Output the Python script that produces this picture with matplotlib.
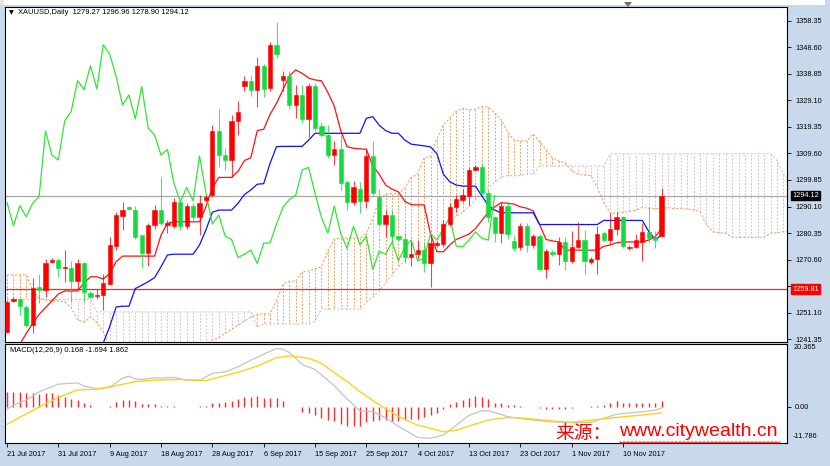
import numpy as np
import matplotlib
matplotlib.use("Agg")
import matplotlib.pyplot as plt
from matplotlib.patches import Rectangle, Polygon
from matplotlib.lines import Line2D
from matplotlib.transforms import blended_transform_factory

# XAUUSD daily bars 21 Jul 2017 .. 17 Nov 2017 (broker feed with Sunday bars)
opens = [1244.0, 1255.5, 1256.3, 1253.2, 1246.6, 1260.4, 1259.6, 1269.9, 1270.4, 1267.5,
         1267.7, 1262.8, 1269.2, 1258.5, 1257.3, 1257.5, 1261.6, 1275.6, 1286.6, 1290.0,
         1288.8, 1279.6, 1272.9, 1283.3, 1288.8, 1283.3, 1283.0, 1291.6, 1283.0, 1290.4,
         1286.3, 1292.5, 1294.3, 1317.9, 1309.0, 1307.2, 1321.6, 1334.2, 1336.3, 1333.0,
         1341.8, 1333.6, 1349.5, 1336.4, 1337.9, 1327.4, 1331.1, 1322.3, 1334.2, 1319.5,
         1316.4, 1309.0, 1311.1, 1299.2, 1291.9, 1296.4, 1292.2, 1308.7, 1293.7, 1283.7,
         1287.0, 1279.2, 1278.0, 1271.4, 1272.6, 1274.1, 1269.2, 1275.9, 1276.3, 1283.7,
         1289.8, 1292.5, 1294.0, 1303.5, 1304.5, 1295.2, 1286.3, 1280.4, 1290.3, 1277.5,
         1275.1, 1282.9, 1275.9, 1279.2, 1267.0, 1273.5, 1272.6, 1277.1, 1270.2, 1275.3,
         1277.8, 1269.6, 1271.0, 1280.4, 1277.8, 1281.7, 1286.1, 1274.7, 1275.3, 1277.1,
         1280.8, 1279.0, 1279.27]
highs = [1255.8, 1256.8, 1256.6, 1254.0, 1263.7, 1265.5, 1271.0, 1271.2, 1271.2, 1274.1,
         1270.0, 1271.0, 1269.8, 1259.0, 1260.0, 1265.3, 1279.0, 1288.2, 1291.9, 1290.3,
         1290.4, 1279.8, 1284.0, 1290.7, 1301.0, 1285.0, 1293.1, 1292.5, 1291.5, 1291.5,
         1294.3, 1294.5, 1320.0, 1326.0, 1311.5, 1323.8, 1328.9, 1337.9, 1338.5, 1344.9,
         1342.6, 1350.5, 1357.9, 1340.0, 1339.7, 1334.8, 1334.8, 1335.5, 1335.5, 1321.2,
         1320.0, 1314.3, 1316.4, 1300.0, 1299.5, 1299.2, 1311.5, 1314.0, 1296.4, 1288.8,
         1288.8, 1279.8, 1280.4, 1277.0, 1277.8, 1277.1, 1279.6, 1277.5, 1285.0, 1291.3,
         1294.3, 1296.7, 1304.7, 1305.5, 1306.2, 1296.4, 1286.5, 1291.9, 1291.9, 1279.8,
         1283.9, 1283.9, 1280.0, 1280.2, 1274.6, 1274.0, 1279.0, 1278.9, 1281.2, 1284.5,
         1281.5, 1271.5, 1282.9, 1281.2, 1287.6, 1288.2, 1286.8, 1275.8, 1280.0, 1283.9,
         1290.0, 1281.0, 1296.96]
lows = [1243.6, 1255.0, 1250.2, 1245.8, 1243.7, 1254.5, 1256.9, 1269.5, 1264.3, 1262.4,
        1255.2, 1260.0, 1255.0, 1256.5, 1256.0, 1252.0, 1261.3, 1274.0, 1281.5, 1288.8,
        1278.0, 1267.5, 1268.2, 1281.8, 1283.5, 1280.5, 1282.1, 1281.5, 1282.0, 1284.8,
        1279.6, 1291.8, 1293.5, 1304.7, 1303.5, 1301.1, 1316.4, 1332.4, 1330.8, 1326.5,
        1330.3, 1332.4, 1344.6, 1332.4, 1326.1, 1322.5, 1320.8, 1315.8, 1318.0, 1315.5,
        1307.8, 1305.4, 1296.2, 1288.8, 1290.7, 1287.6, 1289.5, 1293.7, 1283.3, 1279.0,
        1276.6, 1277.4, 1269.2, 1268.3, 1270.8, 1266.1, 1260.6, 1275.2, 1275.4, 1282.8,
        1288.2, 1291.9, 1290.7, 1303.0, 1294.5, 1284.6, 1277.1, 1276.8, 1278.0, 1273.9,
        1274.0, 1273.5, 1275.0, 1266.3, 1263.7, 1272.0, 1268.6, 1266.8, 1269.2, 1275.0,
        1265.5, 1269.0, 1265.5, 1277.5, 1276.3, 1279.7, 1275.0, 1274.3, 1274.8, 1270.2,
        1276.8, 1274.7, 1278.90]
closes = [1255.1, 1256.2, 1253.6, 1246.6, 1260.2, 1259.6, 1269.4, 1270.6, 1267.4, 1267.9,
          1262.8, 1269.2, 1258.8, 1256.9, 1257.8, 1262.0, 1275.9, 1287.0, 1288.8, 1289.1,
          1279.0, 1273.1, 1283.3, 1288.8, 1284.1, 1284.0, 1291.6, 1283.0, 1290.4, 1286.3,
          1291.3, 1293.7, 1317.9, 1309.0, 1307.2, 1321.6, 1325.0, 1336.3, 1333.0, 1341.8,
          1333.3, 1349.5, 1346.1, 1337.9, 1327.4, 1331.1, 1322.3, 1334.2, 1318.9, 1316.4,
          1309.0, 1311.1, 1298.8, 1291.9, 1297.1, 1292.2, 1308.7, 1295.2, 1283.7, 1287.0,
          1279.2, 1278.0, 1271.4, 1272.6, 1274.1, 1269.2, 1276.6, 1276.8, 1283.7, 1289.8,
          1292.7, 1294.3, 1303.5, 1304.5, 1295.0, 1286.1, 1280.4, 1290.3, 1280.2, 1274.7,
          1282.9, 1276.0, 1279.2, 1267.0, 1273.7, 1272.6, 1277.1, 1270.2, 1275.3, 1277.8,
          1270.2, 1271.0, 1280.2, 1277.8, 1282.0, 1286.1, 1275.6, 1275.3, 1277.8, 1280.8,
          1278.4, 1277.8, 1294.12]

# Ichimoku lines
tenkan = [1232, 1236, 1239.5, 1243.5, 1247.2, 1250.5, 1253, 1255.5, 1258, 1259.1,
          1259.1, 1259.1, 1262, 1264.3, 1264.3, 1263.5, 1265.5, 1269.8, 1271.9, 1271.9,
          1271.9, 1271.9, 1271.9, 1271.9, 1279.6, 1283.9, 1284.5, 1284.5, 1284.5, 1284.5,
          1284.5, 1290, 1297, 1300.8, 1300.8, 1300.8, 1303, 1307, 1308, 1318,
          1318.5, 1324, 1328, 1333, 1338, 1340.3, 1339, 1337.3, 1336.6, 1336.3,
          1332, 1327, 1318, 1312.1, 1311.5, 1311.3, 1311.1, 1305, 1302, 1298,
          1296.5, 1295.5, 1292, 1290.8, 1290.7, 1290.7, 1280, 1273.5, 1273.5, 1276,
          1278, 1279, 1280, 1282, 1285, 1288, 1290, 1291.5, 1291.3, 1291,
          1290, 1289.5, 1288.5, 1283.5, 1278, 1277.5, 1277.1, 1274.1, 1274.1, 1274.1,
          1274.1, 1274.1, 1274.1, 1275.5, 1276, 1276.8, 1277.1, 1277.1, 1277.1, 1277.1,
          1277.8, 1279, 1282]
kijun = [1228, 1228, 1228, 1228, 1228, 1228, 1228, 1228, 1228, 1228,
         1232, 1232, 1232, 1232, 1236, 1240, 1246, 1253.2, 1253.5, 1253.5,
         1260, 1261.2, 1262.5, 1264, 1268, 1272.3, 1272.6, 1272.6, 1272.6, 1272.6,
         1276, 1281.5, 1288, 1288.8, 1288.8, 1288.8, 1291.3, 1294.5, 1296.2, 1298.3,
         1298.5, 1306, 1312.1, 1312.2, 1312.2, 1312.2, 1312.2, 1314.5, 1317, 1317,
         1317, 1317, 1317, 1317, 1317, 1317, 1322.5, 1323.1, 1320, 1318,
         1317, 1317, 1314.5, 1313, 1312.7, 1312.4, 1312, 1309.5, 1302, 1299.2,
         1298, 1297.6, 1297.6, 1297.6, 1294, 1290.5, 1288.8, 1287.8, 1287.8, 1287.8,
         1287.8, 1287.8, 1287.8, 1283.5, 1283.5, 1283.5, 1283.5, 1283.5, 1283.5, 1283.5,
         1283.5, 1283.5, 1283.5, 1285, 1285, 1285, 1285, 1285, 1285, 1285,
         1281, 1278, 1279.5]
# cloud, already shifted 26 bars forward (129 points)
span_a = [1265, 1265, 1265, 1265, 1259.5, 1256.5, 1255.8, 1255.5, 1255.5, 1255,
          1253, 1248.5, 1247.6, 1249.5, 1247.5, 1244, 1239, 1236, 1234, 1234,
          1234, 1234, 1234, 1234, 1234, 1234, 1234, 1234, 1234, 1234,
          1236, 1239.5, 1241, 1242, 1243.5, 1245, 1246.5, 1248, 1249.5, 1250.5,
          1250.7, 1250.7, 1255.5, 1261.5, 1262.7, 1262.7, 1266, 1266.5, 1267.2, 1268,
          1273.8, 1278.1, 1278.5, 1278.5, 1278.5, 1278.5, 1280.3, 1285.7, 1292.5, 1294.8,
          1294.8, 1294.8, 1297, 1300.8, 1302, 1308, 1308.5, 1315, 1320, 1322.6,
          1325, 1326.2, 1325.6, 1325.9, 1326.8, 1326.6, 1324.5, 1322, 1317.5, 1314.5,
          1314.2, 1314.2, 1316.8, 1314, 1311, 1308, 1306.8, 1306.2, 1303.2, 1301.9,
          1301.7, 1301.5, 1297, 1291.5, 1287.8, 1287.6, 1288, 1288.3, 1288.8, 1289.8,
          1289.5, 1289.3, 1289.4, 1289.7, 1289.4, 1289.4, 1289.2, 1288.9, 1288.2, 1283.5,
          1280.8, 1280.5, 1280.3, 1278.8, 1278.8, 1278.8, 1278.8, 1278.8, 1278.8, 1280.3,
          1280.5, 1280.9, 1281, 1281, 1281, 1281, 1279.4, 1278.5, 1280.8]
span_b = [1256] * 14 + [1251.4] * 25 + [1246] + [1247] * 8 + [1248, 1252.5] + \
         [1252.5] * 6 + [1255, 1257, 1259, 1262] + \
         [1265, 1268, 1270, 1272, 1273, 1274, 1275.5, 1277, 1281, 1285] + \
         [1286.5, 1288, 1290, 1292.5, 1295, 1297, 1299, 1301, 1301.5, 1301.5] + \
         [1301.5, 1302, 1302] + [1305] * 11 + [1309.5] * 26 + [1307, 1302] + [1300] * 7

# MACD(12,26,9)
macd_hist = [4.82, 4.82, 4.72, 4.29, 4.29, 3.97, 4.29, 4.29, 3.86, 3.22,
             2.36, 2.14, 1.07, 0.43, 0.0, 0.05, 0.32, 1.39, 2.14, 2.25,
             1.82, 0.75, 0.75, 0.75, 0.32, 0.32, 0.32, 0.05, 0.02, 0.02,
             0.21, 0.21, 1.29, 1.29, 1.5, 1.93, 2.36, 3.11, 3.22, 3.43,
             2.79, 2.79, 2.79, 1.82, 0.05, -0.1, -1.72, -1.93, -2.79, -3.54,
             -4.29, -4.61, -5.68, -6.22, -6.22, -6.22, -4.82, -4.5, -4.29, -4.4,
             -4.61, -4.61, -4.29, -3.86, -3.86, -3.2, -2.8, -1.93, -0.64, 0.75,
             1.5, 2.14, 2.9, 3.43, 3.11, 2.36, 1.29, 1.07, 0.64, 0.43,
             0.21, 0.0, -0.1, -0.43, -0.86, -0.86, -0.86, -0.64, -0.32, 0.0,
             0.0, 0.1, 0.21, 0.64, 1.07, 1.72, 1.29, 1.18, 1.07, 1.07,
             1.07, 1.18, 1.82]
main_bar = [0, 1, 3, 5, 8, 11, 12, 14, 16, 18, 19, 20, 21, 23, 24, 26, 28, 30, 32, 34,
            36, 38, 40, 42, 43, 44, 46, 48, 51, 53, 55, 57, 59, 61, 64, 66, 68, 70, 72, 74,
            75, 77, 78, 81, 85, 88, 91, 93, 95, 99, 101, 102]
main_val = [-0.85, 0.53, 2.13, 4.8, 7.28, 7.7, 6.64, 5.77, 6.22, 9.2, 9.85, 8.9, 8.8, 9.3, 9.2,
            9.43, 8.56, 8.56, 10.72, 11.23, 12.84, 15.0, 16.93, 18.76, 18.5, 17.5, 13.6, 12.0,
            6.8, 2.5, -1.3, -1.6, -3.6, -6.3, -9.9, -10.18, -9.12, -6.0, -2.8, -1.3,
            -1.3, -2.5, -3.2, -4.07, -4.9, -5.16, -5.1, -3.7, -2.4, -1.62, -1.1, -0.4]
signal_bar = [0, 2, 5, 8, 11, 14, 17, 20, 23, 27, 31, 33, 36, 39, 42, 44, 47, 49, 51, 53,
              55, 58, 61, 64, 65, 68, 70, 72, 75, 78, 81, 85, 88, 91, 95, 99, 102]
signal_val = [-5.68, -3.43, -0.1, 3.0, 5.4, 5.65, 6.8, 8.1, 8.55, 8.79, 8.4, 9.5, 11.1, 13.1,
              15.8, 16.38, 15.6, 14.0, 11.0, 8.1, 4.9, 0.6, -3.1, -6.0, -6.4, -8.06, -7.6,
              -6.2, -4.3, -3.45, -3.75, -4.6, -5.0, -4.35, -3.43, -2.69, -2.0]

date_bars = [0, 8, 16, 24, 32, 40, 48, 56, 64, 72, 80, 88, 96]
date_labels = ["21 Jul 2017", "31 Jul 2017", "9 Aug 2017", "18 Aug 2017", "28 Aug 2017",
               "6 Sep 2017", "15 Sep 2017", "25 Sep 2017", "4 Oct 2017", "13 Oct 2017",
               "23 Oct 2017", "1 Nov 2017", "10 Nov 2017"]
price_ticks = [1358.35, 1348.60, 1338.85, 1329.10, 1319.35, 1309.60, 1299.85,
               1290.10, 1280.35, 1270.60, 1260.85, 1251.10, 1241.35]
last_price = 1294.12
line_level = 1259.81

UP = "#ff0000"
DOWN = "#12dc3c"
FONT = "Liberation Sans"

W, H = 830, 466
fig = plt.figure(figsize=(8.3, 4.66), dpi=100, facecolor="white")


def fx(px):
    return px / W


def fy(py):
    return 1 - py / H


# window chrome
fig.patches.append(Rectangle((0, 0), fx(4), 1, transform=fig.transFigure, fc="#e4e4e4", ec="none", zorder=-5))
fig.patches.append(Rectangle((fx(825), 0), 1, 1, transform=fig.transFigure, fc="#c9d9ec", ec="none", zorder=-5))
fig.patches.append(Rectangle((0, 0), 1, 1 - fy(461), transform=fig.transFigure, fc="#c9d9ec", ec="none", zorder=-5))
fig.patches.append(Polygon([[fx(624), fy(2)], [fx(632), fy(2)], [fx(628), fy(7)]],
                           closed=True, transform=fig.transFigure, fc="#6e6e6e", ec="none"))

ax = fig.add_axes([fx(5.3), fy(341.5), fx(787.3) - fx(5.3), fy(7.3) - fy(341.5)])
ax2 = fig.add_axes([fx(5.3), fy(443.3), fx(787.3) - fx(5.3), fy(343.5) - fy(443.3)])

n = len(closes)
x = np.arange(n)
xlim = (-0.265, 121.6)

# ---- cloud ----
xc = np.arange(len(span_a))
a = np.array(span_a)
b = np.array(span_b)
cloud_col = np.where(a >= b, "#f4a460", "#d8bfd8")
ax.vlines(xc, a, b, colors=cloud_col, linestyles=(0, (2, 1.6)), linewidth=0.7, zorder=1)
ax.plot(xc, a, color="#f4a460", ls=(0, (2, 1.6)), lw=0.8, zorder=1)
ax.plot(xc, b, color="#d8bfd8", ls=(0, (2, 1.6)), lw=0.8, zorder=1)

# ---- horizontal levels ----
ax.axhline(last_price, color="#a8a8a8", lw=0.9, zorder=2)
ax.axhline(line_level, color="#ff2020", lw=0.9, zorder=2)

# ---- Ichimoku lines ----
ax.plot(x, tenkan, color="#ff1010", lw=0.9, zorder=3)
ax.plot(x, kijun, color="#1010ff", lw=0.9, zorder=3)
ax.plot(x[:-26], closes[26:], color="#33e633", lw=0.9, zorder=3)

# ---- candles ----
o = np.array(opens)
c = np.array(closes)
hi = np.array(highs)
lo = np.array(lows)
col = np.where(c >= o, UP, DOWN)
ax.vlines(x, lo, hi, colors=col, lw=0.8, alpha=0.75, zorder=4)
body_h = np.maximum(np.abs(c - o), 0.35)
ax.bar(x, body_h, bottom=np.minimum(o, c), width=0.66, color=col, edgecolor=col,
       linewidth=0.4, zorder=5)

ax.set_xlim(*xlim)
ax.set_ylim(1240.54, 1363.27)
ax.set_xticks([])
ax.yaxis.tick_right()
ax.set_yticks(price_ticks)
# the 1260.85 label sits under the red level box, as in the terminal
ax.set_yticklabels(["" if v == 1260.85 else "%.2f" % v for v in price_ticks])
ax.tick_params(axis="y", length=3, width=0.6, pad=2.5, labelsize=5.3)
for lbl in ax.get_yticklabels():
    lbl.set_fontfamily(FONT)
for s in ax.spines.values():
    s.set_linewidth(0.8)

tr = blended_transform_factory(ax.transAxes, ax.transData)
ax.text(1.0065, last_price, "%.2f" % last_price, transform=tr, ha="left", va="center",
        fontsize=5.3, family=FONT, color="white", zorder=10,
        bbox=dict(boxstyle="square,pad=0.18", fc="black", ec="black"))
ax.text(1.0065, line_level, "%.2f" % line_level, transform=tr, ha="left", va="center",
        fontsize=5.3, family=FONT, color="white", zorder=10, clip_on=False,
        bbox=dict(boxstyle="square,pad=0.18", fc="#ff0000", ec="#ff0000"))

# ---- MACD ----
ax2.vlines(x, 0, macd_hist, colors="#ff2a2a", lw=1.0, zorder=2)
ax2.plot(main_bar, main_val, color="#c4c4c4", lw=0.9, zorder=3)
ax2.plot(signal_bar, signal_val, color="#ffd21a", lw=1.0, zorder=3)
ax2.set_xlim(*xlim)
ax2.set_ylim(-11.786, 20.365)
ax2.yaxis.tick_right()
ax2.set_yticks([0.0])
ax2.set_yticklabels(["0.00"])
ax2.tick_params(axis="y", length=3, width=0.6, pad=2.5, labelsize=5.3)
for lbl in ax2.get_yticklabels():
    lbl.set_fontfamily(FONT)
ax2.set_xticks(date_bars)
ax2.set_xticklabels(date_labels)
ax2.tick_params(axis="x", length=3, width=0.6, pad=2.5, labelsize=5.3)
for lbl in ax2.get_xticklabels():
    lbl.set_ha("left")
    lbl.set_fontfamily(FONT)
for s in ax2.spines.values():
    s.set_linewidth(0.8)
ax2.text(1.0075, 0.99, "20.365", transform=ax2.transAxes, ha="left", va="top",
         fontsize=5.3, family=FONT)
ax2.text(1.0075, 0.035, "-11.786", transform=ax2.transAxes, ha="left", va="bottom",
         fontsize=5.3, family=FONT)

# ---- captions ----
fig.text(fx(9), fy(12.5), "\u25bc", fontsize=4.5, va="center", ha="left", family="DejaVu Sans")
fig.text(fx(18), fy(12.5), "XAUUSD,Daily  1279.27 1296.96 1278.90 1294.12", fontsize=5.4,
         va="center", ha="left", family=FONT)
fig.text(fx(10), fy(350), "MACD(12,26,9) 0.168 -1.694 1.862", fontsize=5.4,
         va="center", ha="left", family=FONT)

# watermark
fig.text(fx(555), fy(433), "来源：", fontsize=13.5, color="#ff0000", va="center", ha="left",
         family=["Noto Sans CJK SC", "DejaVu Sans"])
fig.text(fx(619), fy(432), "www.citywealth.cn", fontsize=14, color="#ff0000", va="center",
         ha="left", family=FONT)
zx = np.arange(620, 782, 2.0)
zy = 442.5 + np.where(np.arange(len(zx)) % 2 == 0, -0.8, 0.8)
fig.add_artist(Line2D(fx(zx), fy(zy), transform=fig.transFigure, color="#ff0000", lw=0.7))

fig.savefig("out.png", dpi=100, facecolor="white")
